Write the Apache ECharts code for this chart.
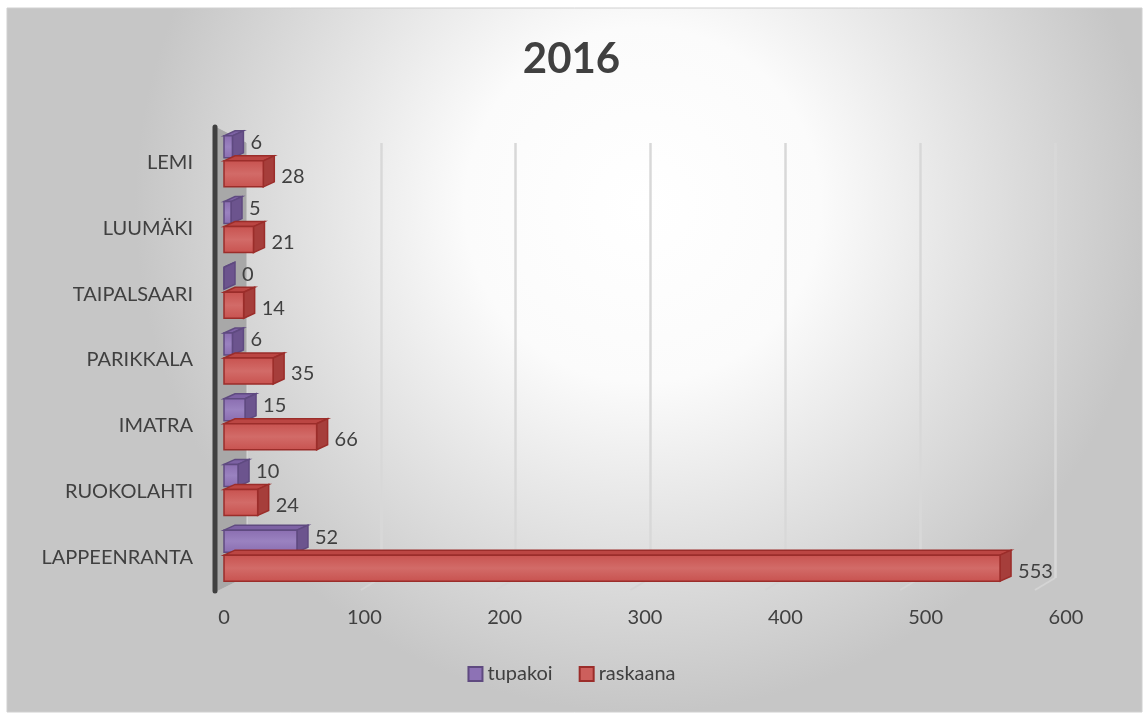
<!DOCTYPE html>
<html><head><meta charset="utf-8">
<script src="https://cdn.jsdelivr.net/npm/echarts@6/dist/echarts.min.js"></script>
<style>html,body{margin:0;padding:0;background:#fff;}#c{width:1143px;height:713px;}</style>
</head><body><div id="c"></div>
<script>
const categories = ['LAPPEENRANTA','RUOKOLAHTI','IMATRA','PARIKKALA','TAIPALSAARI','LUUMÄKI','LEMI'];
const tupakoi = [52, 10, 15, 6, 0, 5, 6];
const raskaana = [553, 24, 66, 35, 14, 21, 28];
const xTicks = [0, 100, 200, 300, 400, 500, 600];

const font = 'Lato, "Open Sans", sans-serif';
const DX = 11, DY = 5;
const WALL = [[215,127],[246,143],[246,576],[216,591]];

function box3d(offTop, offBot, colors, withWall) {
  return function (params, api) {
    const v = api.value(0), ci = api.value(1);
    const p1 = api.coord([v, ci]);
    const p0 = api.coord([0, ci]);
    const x0 = p0[0], x1 = p1[0];
    const yT = p0[1] + offTop, yB = p0[1] + offBot;
    const children = [];
    if (withWall && params.dataIndex === 0) {
      children.push({type:'polygon', shape:{points:WALL}, style:{fill:'#a8a8a8', stroke:'#a8a8a8', lineWidth:1}});
      children.push({type:'line', shape:{x1:215,y1:127,x2:215,y2:591}, style:{stroke:'#404040', lineWidth:5, lineCap:'round'}});
    }
    children.push(
      {type:'polygon', shape:{points:[[x0,yT],[x0+DX,yT-DY],[x1+DX,yT-DY],[x1,yT]]},
       style:{fill:colors.top, stroke:colors.border, lineWidth:1.5}},
      {type:'polygon', shape:{points:[[x1,yT],[x1+DX,yT-DY],[x1+DX,yB-DY],[x1,yB]]},
       style:{fill:colors.side, stroke:colors.border, lineWidth:1.5}},
      {type:'rect', shape:{x:x0, y:yT, width:Math.max(x1-x0,0), height:yB-yT},
       style:{fill:new echarts.graphic.LinearGradient(0,0,0,1,[{offset:0,color:colors.f1},{offset:0.5,color:colors.f2},{offset:1,color:colors.f1}]), stroke:colors.border, lineWidth:1.5}},
      {type:'text', style:{text:String(v), x:x1+DX+7, y:(yT+yB)/2 + colors.ly, font:'20px ' + font, fill:'#404040', textAlign:'left', textVerticalAlign:'middle', verticalAlign:'middle'}}
    );
    return {type:'group', children};
  };
}

// floor perspective lines at each tick
function floor(params, api) {
  const t = api.value(0);
  const xb = 246 + (t / 600) * 809; // back-wall grid position matches grid 1
  if (t === 0) return {type:'group', children:[]};
  return {type:'line', shape:{x1:xb, y1:578, x2:xb - 20, y2:590}, style:{stroke:'#d4d4d4', lineWidth:2}};
}

const chart = echarts.init(document.getElementById('c'));
chart.setOption({
  animation: false,
  backgroundColor: 'transparent',
  graphic: [
    {type:'rect', z:-100, shape:{x:7,y:8,width:1135,height:704},
     style:{fill:new echarts.graphic.RadialGradient(0.56,0.28,0.72,[{offset:0,color:'#ffffff'},{offset:0.35,color:'#fbfbfb'},{offset:1,color:'#c6c6c6'}]), stroke:'#d0d0d0', lineWidth:1}}
  ],
  title: {text:'2016', left:'center', top:33, textStyle:{fontFamily:font, fontSize:42, fontWeight:'bold', color:'#404040'}},
  legend: {
    data:['tupakoi','raskaana'], bottom:24, left:'center', itemWidth:14, itemHeight:14, itemGap:26,
    icon:'rect', textStyle:{fontFamily:font, fontSize:20, color:'#404040'}
  },
  grid: [
    {left:224, right:77, top:130, bottom:123},
    {left:246, right:88, top:143, bottom:135}
  ],
  xAxis: [
    {type:'value', gridIndex:0, min:0, max:600, interval:100,
     axisLine:{show:false}, axisTick:{show:false}, splitLine:{show:false},
     axisLabel:{fontFamily:font, fontSize:20, color:'#404040', margin:18, formatter:v=> xTicks.includes(v)? String(v):''}},
    {type:'value', gridIndex:1, min:0, max:600, interval:100,
     axisLine:{show:false}, axisTick:{show:false}, axisLabel:{show:false},
     splitLine:{lineStyle:{color:'#d8d8d8', width:2.5}}}
  ],
  yAxis: [
    {type:'category', gridIndex:0, data:categories,
     axisLine:{show:false}, axisTick:{show:false},
     axisLabel:{fontFamily:font, fontSize:20, color:'#404040', margin:31}},
    {type:'category', gridIndex:1, data:categories, show:false}
  ],
  series: [
    {name:'floor', type:'custom', xAxisIndex:0, yAxisIndex:0, z:1, silent:true, clip:false,
     data: xTicks.map(t=>[t, 0]), encode:{x:0, y:1}, renderItem: floor},
    {name:'tupakoi', type:'custom', xAxisIndex:0, yAxisIndex:0, z:3, clip:false,
     data: tupakoi.map((v,i)=>[v,i]), encode:{x:0, y:1},
     itemStyle:{color:'#8d72b5', borderColor:'#5f4a80', borderWidth:1.5},
     renderItem: box3d(-27, -5, {f1:'#8a6db0', f2:'#9a82c0', top:'#7d62a4', side:'#6c548e', border:'#5f4a80', ly:-4}, true)},
    {name:'raskaana', type:'custom', xAxisIndex:0, yAxisIndex:0, z:4, clip:false,
     data: raskaana.map((v,i)=>[v,i]), encode:{x:0, y:1},
     itemStyle:{color:'#cd5f5c', borderColor:'#9b2d2a', borderWidth:1.5},
     renderItem: box3d(-2, 24, {f1:'#c8524f', f2:'#d26b68', top:'#bb4643', side:'#a63e3b', border:'#9b2d2a', ly:3}, false)}
  ]
});
</script></body></html>
